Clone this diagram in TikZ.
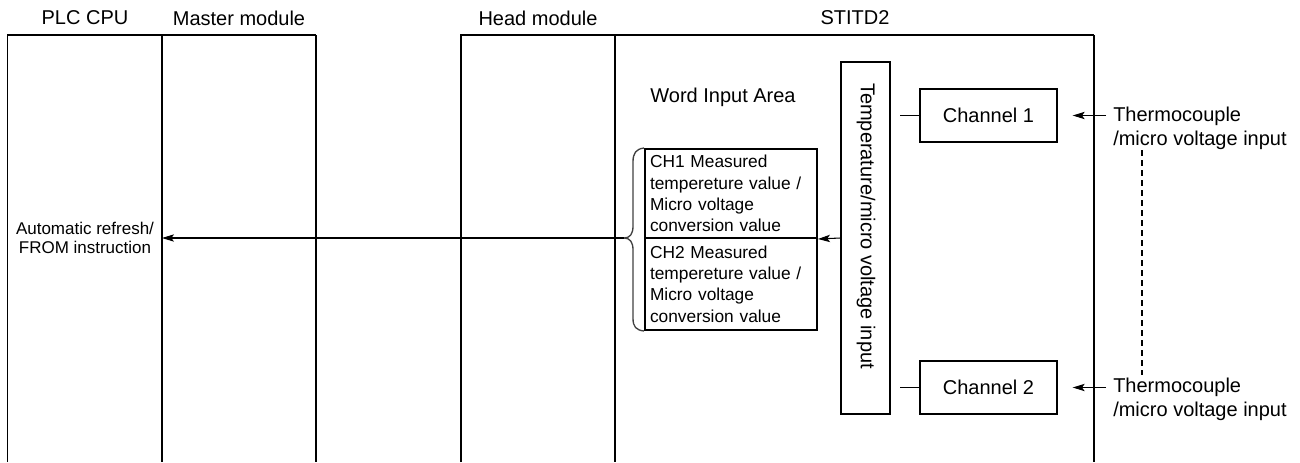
\documentclass[tikz,border=0pt]{standalone}
\usepackage{fontspec}
\setmainfont{Liberation Sans}
\usetikzlibrary{arrows.meta}
\begin{document}
\begin{tikzpicture}[x=0.75pt,y=-0.75pt,
  frame/.style={line width=0.8pt},
  divider/.style={line width=1.3pt},
  hdr/.style={font=\fontsize{15}{18}\selectfont},
  lbl/.style={font=\fontsize{15}{18}\selectfont, align=left, inner sep=0pt},
  box/.style={draw, line width=1pt, inner sep=0pt},
  chbox/.style={draw, line width=1.5pt, inner xsep=3.75pt, inner ysep=0pt, text width=121.5pt, minimum width=129pt, align=left, font=\fontsize{13}{16}\selectfont},
  arr/.style={-{Stealth[length=9pt,width=5.5pt,inset=2pt]}, line width=0.8pt},
  bracestyle/.style={line width=1pt, black!75},
]
\useasboundingbox (0,0) rectangle (1300,462);
% headers
\node[hdr] (hplc) at (85,18) {PLC CPU};
\node[hdr] (hmaster) at (239,18) {Master module};
\node[hdr] (hhead) at (538,18) {Head module};
\node[hdr] (hst) at (855,18) {STITD2};
% module frames
\draw[frame] (7.5,462) -- (7.5,35) -- (316,35);
\draw[divider] (316,35) -- (316,462);
\draw[divider] (162,35) -- (162,462);
\draw[frame] (461,462) -- (461,35) -- (1094,35);
\draw[divider] (1094,35) -- (1094,462);
\draw[divider] (615,35) -- (615,462);
% word input area
\node[hdr] (wia) at (723,97) {Word Input Area};
\node[chbox, minimum height=66.75pt] (chv1) at (731,193.5) {CH1 Measured\\tempereture value /\\Micro voltage\\conversion value};
\node[chbox, minimum height=69pt] (chv2) at (731,284) {CH2 Measured\\tempereture value /\\Micro voltage\\conversion value};
% temperature box
\node[box, minimum width=36.75pt, minimum height=264pt] (temp) at (865.5,238) {};
\node[hdr, rotate=-90] (templbl) at (866,226) {Temperature/micro voltage input};
% channels
\node[box, hdr, minimum width=102.75pt, minimum height=39.75pt] (ch1) at (988.5,115.5) {Channel 1};
\node[box, hdr, minimum width=102.75pt, minimum height=39.75pt] (ch2) at (988.5,387.5) {Channel 2};
\coordinate (s1) at (900,115.5);
\coordinate (s2) at (900,387.5);
\draw[frame] (s1) -- (ch1.west);
\draw[frame] (s2) -- (ch2.west);
% thermocouple inputs
\node[lbl, anchor=west] (tc1) at (1113,128) {Thermocouple\\/micro voltage input};
\node[lbl, anchor=west] (tc2) at (1113,399.5) {Thermocouple\\/micro voltage input};
\coordinate (a1s) at (1106,115.5);
\coordinate (a2s) at (1106,387.5);
\draw[arr] (a1s) -- ([xshift=11.25pt]ch1.east);
\draw[arr] (a2s) -- ([xshift=11.25pt]ch2.east);
\coordinate (d1) at (1142,150);
\coordinate (d2) at (1142,375);
\draw[frame, dash pattern=on 4.5pt off 3pt] (d1) -- (d2);
% arrow into word area
\draw[arr] (temp.west) -- (chv1.south east);
% brace
\coordinate (btip) at (624,238);
\draw[bracestyle] (chv1.north west) .. controls (636,149) and (633,153) .. (633,162) -- (633,226) .. controls (633,234) and (630,238) .. (btip) .. controls (630,238) and (633,242) .. (633,250) -- (633,318) .. controls (633,327) and (636,330) .. (chv2.south west);
% refresh
\coordinate (plcin) at (162,238);
\draw[arr] (btip) -- (plcin);
\node[font=\fontsize{12.75}{14.25}\selectfont, align=center] (refresh) at (85,237.5) {Automatic refresh/\\FROM instruction};
\end{tikzpicture}
\end{document}
